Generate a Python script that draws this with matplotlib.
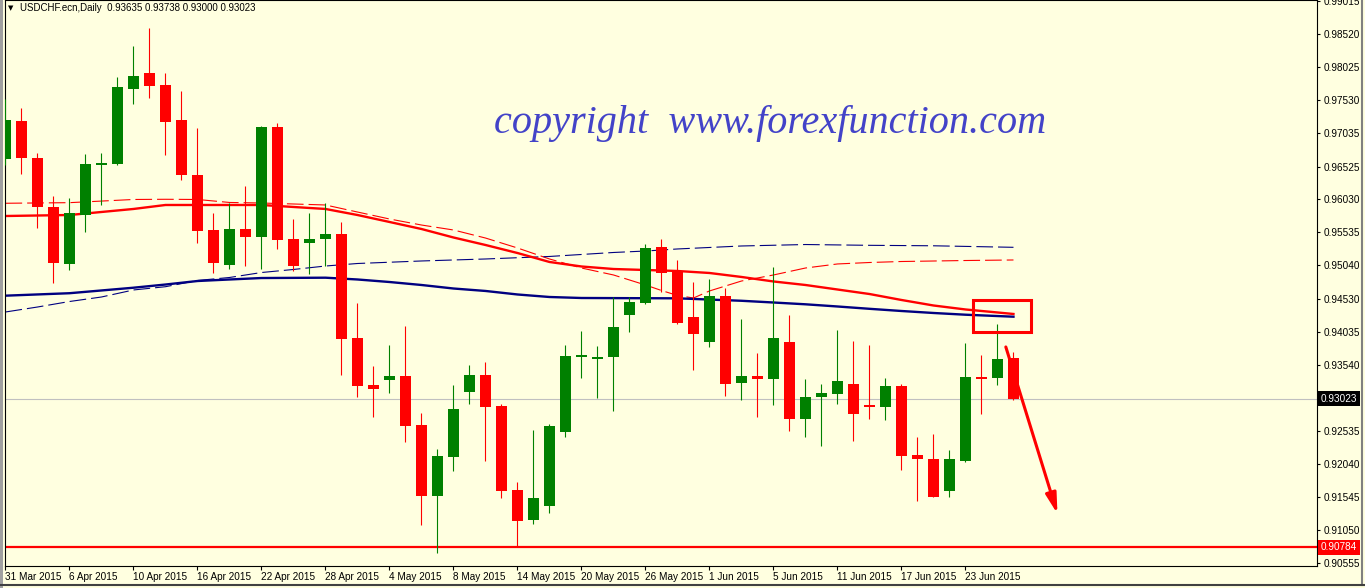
import matplotlib
matplotlib.use("Agg")
import matplotlib.pyplot as plt
import matplotlib.transforms as mtransforms
from matplotlib.patches import Rectangle, FancyArrowPatch
from matplotlib.lines import Line2D
import numpy as np

plt.rcParams['lines.scale_dashes'] = False
plt.rcParams['font.family'] = ['Liberation Sans', 'DejaVu Sans']

# ---------------- data (USDCHF daily, 31 Mar 2015 .. 26 Jun 2015) ----------------
date_labels = ["31 Mar 2015", "6 Apr 2015", "10 Apr 2015", "16 Apr 2015", "22 Apr 2015",
               "28 Apr 2015", "4 May 2015", "8 May 2015", "14 May 2015", "20 May 2015",
               "26 May 2015", "1 Jun 2015", "5 Jun 2015", "11 Jun 2015", "17 Jun 2015",
               "23 Jun 2015"]
label_bars = list(range(0, 61, 4))

opens = [0.96645, 0.97213, 0.96655, 0.95917, 0.95062, 0.95796, 0.96550, 0.96569,
         0.97700, 0.97937, 0.97756, 0.97228, 0.96399, 0.95570, 0.95047, 0.95585,
         0.95469, 0.97123, 0.95434, 0.95379, 0.95439, 0.95510, 0.93942, 0.93234,
         0.93313, 0.93369, 0.92631, 0.91565, 0.92148, 0.93128, 0.93384, 0.92917,
         0.91651, 0.91203, 0.91414, 0.92530, 0.93660, 0.93630, 0.93660, 0.94293,
         0.94474, 0.95314, 0.94941, 0.94259, 0.93886, 0.94575, 0.93268, 0.93374,
         0.93329, 0.93882, 0.92726, 0.93057, 0.93102, 0.93249, 0.92922, 0.92906,
         0.93218, 0.92178, 0.92118, 0.91640, 0.92092, 0.93354, 0.93344, 0.93635]
highs = [0.97545, 0.97409, 0.96731, 0.96083, 0.96052, 0.96716, 0.96731, 0.97876,
         0.98344, 0.98615, 0.97937, 0.97665, 0.97103, 0.95826, 0.95977, 0.96233,
         0.97142, 0.97187, 0.95736, 0.95826, 0.95977, 0.95691, 0.94474, 0.93524,
         0.93837, 0.94123, 0.92816, 0.92269, 0.93234, 0.93535, 0.93580, 0.92947,
         0.91771, 0.92555, 0.92646, 0.93837, 0.94048, 0.93821, 0.94560, 0.94565,
         0.95359, 0.95434, 0.95118, 0.94791, 0.94831, 0.94691, 0.94228, 0.93716,
         0.95012, 0.94289, 0.93329, 0.93253, 0.94067, 0.93901, 0.93841, 0.93344,
         0.93249, 0.92450, 0.92495, 0.92254, 0.93867, 0.93686, 0.94153, 0.93738]
lows = [0.96550, 0.96419, 0.95605, 0.94776, 0.94967, 0.95544, 0.95951, 0.96550,
        0.97474, 0.97564, 0.96701, 0.96324, 0.95379, 0.94926, 0.94982, 0.95032,
        0.94987, 0.95288, 0.94956, 0.94911, 0.95032, 0.93389, 0.93057, 0.92756,
        0.93117, 0.92379, 0.91128, 0.90706, 0.91942, 0.92952, 0.92092, 0.91535,
        0.90796, 0.91143, 0.91309, 0.92454, 0.93344, 0.93042, 0.92846, 0.94037,
        0.94459, 0.94640, 0.94157, 0.93464, 0.93811, 0.93072, 0.93012, 0.92756,
        0.92937, 0.92545, 0.92454, 0.92319, 0.92952, 0.92394, 0.92726, 0.92710,
        0.91957, 0.91489, 0.91540, 0.91550, 0.92077, 0.92801, 0.93238, 0.93000]
closes = [0.97228, 0.96660, 0.95921, 0.95077, 0.95826, 0.96565, 0.96575, 0.97726,
          0.97891, 0.97745, 0.97203, 0.96399, 0.95559, 0.95077, 0.95585, 0.95469,
          0.97123, 0.95424, 0.95032, 0.95434, 0.95510, 0.93931, 0.93223, 0.93178,
          0.93369, 0.92620, 0.91565, 0.92163, 0.92872, 0.93384, 0.92906, 0.91640,
          0.91188, 0.91530, 0.92616, 0.93671, 0.93686, 0.93660, 0.94108, 0.94485,
          0.95299, 0.94926, 0.94173, 0.94007, 0.94575, 0.93253, 0.93374, 0.93329,
          0.93942, 0.92726, 0.93057, 0.93117, 0.93294, 0.92801, 0.92906, 0.93223,
          0.92168, 0.92123, 0.91550, 0.92118, 0.93354, 0.93329, 0.93625, 0.93023]

# moving averages (at selected bars)
ma_red_bars = [0, 4, 8, 10, 16, 20, 22, 24, 26, 28, 30, 32, 34, 36, 38, 42, 44, 46,
               48, 50, 52, 54, 56, 58, 60, 63]
ma_red = [0.95781, 0.95796, 0.95887, 0.95947, 0.95947, 0.95887, 0.95796, 0.95691,
          0.95585, 0.95457, 0.95344, 0.95223, 0.95088, 0.95020, 0.94982, 0.94952,
          0.94922, 0.94862, 0.94794, 0.94741, 0.94673, 0.94605, 0.94515, 0.94432,
          0.94372, 0.94304]
ma_blue_bars = [0, 4, 8, 10, 12, 14, 16, 20, 22, 24, 26, 28, 30, 32, 34, 36, 42, 46,
                48, 50, 52, 54, 56, 58, 60, 63]
ma_blue = [0.94580, 0.94617, 0.94700, 0.94748, 0.94801, 0.94824, 0.94846, 0.94851,
           0.94824, 0.94786, 0.94741, 0.94688, 0.94651, 0.94598, 0.94560, 0.94545,
           0.94540, 0.94503, 0.94477, 0.94450, 0.94417, 0.94382, 0.94349, 0.94319,
           0.94293, 0.94263]
ma_red_dash_bars = [0, 4, 8, 10, 12, 14, 16, 18, 20, 22, 24, 26, 28, 30, 32, 34, 36,
                    38, 40, 41, 42, 43, 44, 46, 48, 50, 52, 54, 56, 60, 63]
ma_red_dash = [0.95973, 0.95982, 0.96030, 0.96033, 0.96030, 0.95985, 0.95977, 0.95962,
               0.95947, 0.95841, 0.95736, 0.95645, 0.95570, 0.95449, 0.95299, 0.95133,
               0.94997, 0.94892, 0.94741, 0.94658, 0.94583, 0.94545, 0.94651, 0.94801,
               0.94892, 0.94997, 0.95058, 0.95080, 0.95095, 0.95110, 0.95118]
ma_blue_dash_bars = [0, 2, 4, 6, 8, 10, 12, 14, 16, 18, 20, 22, 26, 30, 34, 38, 40, 42,
                     46, 50, 54, 58, 63]
ma_blue_dash = [0.94334, 0.94409, 0.94492, 0.94560, 0.94666, 0.94715, 0.94809, 0.94854,
                0.94929, 0.94975, 0.95027, 0.95065, 0.95103, 0.95133, 0.95171, 0.95231,
                0.95253, 0.95284, 0.95329, 0.95351, 0.95339, 0.95332, 0.95309]

price_ticks = [0.99015, 0.98520, 0.98025, 0.97530, 0.97035, 0.96525, 0.96030, 0.95535,
               0.95040, 0.94530, 0.94035, 0.93540, 0.92535, 0.92040, 0.91545, 0.91050,
               0.90555]
last_price = 0.93023
support = 0.90784
header = "USDCHF.ecn,Daily  0.93635 0.93738 0.93000 0.93023"
watermark = "copyright  www.forexfunction.com"

# annotation geometry (bar index, price)
box_x0, box_x1, box_y0, box_y1 = 60.45, 64.1, 0.94033, 0.94522
arrow_start, arrow_end = (62.47, 0.93847), (65.8, 0.91251)

# ---------------- figure ----------------
W, H = 1365, 588
BG = '#FFFFE0'
GREEN, RED, NAVY = '#008000', '#FF0000', '#000080'
fig = plt.figure(figsize=(W / 100, H / 100), dpi=100)
fig.patch.set_facecolor(BG)
ax = fig.add_axes([5 / W, 22 / H, 1312 / W, 566 / H])
ax.set_facecolor(BG)

o = np.array(opens); h = np.array(highs); l = np.array(lows); c = np.array(closes)
idx = np.arange(len(o))
cols = np.where(c >= o, GREEN, RED)

ax.axhline(last_price, color='#C0C0C0', lw=0.8, zorder=1)
ax.axhline(support, color=RED, lw=1.6, zorder=1)

ax.plot(ma_red_dash_bars, ma_red_dash, color=RED, lw=0.8, dashes=(12, 3.6), zorder=2)
ax.plot(ma_blue_dash_bars, ma_blue_dash, color=NAVY, lw=0.8, dashes=(12, 3.6), zorder=2)
ax.plot(ma_red_bars, ma_red, color=RED, lw=1.7, zorder=2)
ax.plot(ma_blue_bars, ma_blue, color=NAVY, lw=1.7, zorder=2)

ax.vlines(idx, l, h, colors=cols, lw=0.8, zorder=3)
ax.bar(idx, np.maximum(np.abs(c - o), 0.00025), bottom=np.minimum(o, c), width=0.69,
       color=cols, linewidth=0, zorder=4)

ax.add_patch(Rectangle((box_x0, box_y0), box_x1 - box_x0, box_y1 - box_y0, fill=False,
                       edgecolor=RED, lw=2.2, zorder=5))
ax.add_patch(FancyArrowPatch(arrow_start, arrow_end,
                             arrowstyle='-|>,head_length=1.2,head_width=0.32',
                             mutation_scale=10, color=RED, lw=2.2, zorder=5))

ax.set_xlim(-0.03, 81.97)
ax.set_ylim(0.90505, 0.99037)

for s in ax.spines.values():
    s.set_color('black'); s.set_linewidth(0.8)

ax.yaxis.tick_right()
ax.set_yticks(price_ticks)
ax.set_yticklabels([f"{v:.5f}" for v in price_ticks])
ax.tick_params(axis='y', direction='out', length=2.5, width=0.8, pad=2, labelsize=7.2,
               colors='black')
ax.set_xticks(label_bars)
ax.set_xticklabels(date_labels)
ax.tick_params(axis='x', direction='out', length=3, width=0.8, pad=1.5, labelsize=7.2)
for t in ax.get_xticklabels():
    t.set_ha('left')

blend = mtransforms.blended_transform_factory(ax.transAxes, ax.transData)
ax.text(1 + 4 / 1312, last_price, f"{last_price:.5f}", transform=blend, ha='left',
        va='center', color='white', fontsize=7.2, clip_on=False, zorder=6,
        bbox=dict(boxstyle='square,pad=0.25', fc='black', ec='none'))
ax.text(1 + 4 / 1312, support, f"{support:.5f}", transform=blend, ha='left',
        va='center', color='white', fontsize=7.2, clip_on=False, zorder=6,
        bbox=dict(boxstyle='square,pad=0.25', fc=RED, ec='none'))

fig.text(11 / W, 1 - 8 / H, '\u25BC', fontsize=5, ha='center', va='center',
         family='DejaVu Sans')
fig.text(20 / W, 1 - 8 / H, header, fontsize=7, ha='left', va='center')
fig.text(770 / W, 1 - 123 / H, watermark, fontsize=29, ha='center', va='center',
         style='italic', color='#4343C8', family=['Liberation Serif', 'DejaVu Serif'])

# window frame
fig.add_artist(Rectangle((0, 0), 2.5 / W, 1, transform=fig.transFigure, fc='#A0A0A0',
                         ec='none'))
fig.add_artist(Line2D([1362 / W, 1362 / W], [3 / H, 1], transform=fig.transFigure,
                      color='#808080', lw=1.5))
fig.add_artist(Line2D([0, 1], [3.5 / H, 3.5 / H], transform=fig.transFigure,
                      color='#404040', lw=1.5))

fig.savefig('out.png', dpi=100, facecolor=BG)
